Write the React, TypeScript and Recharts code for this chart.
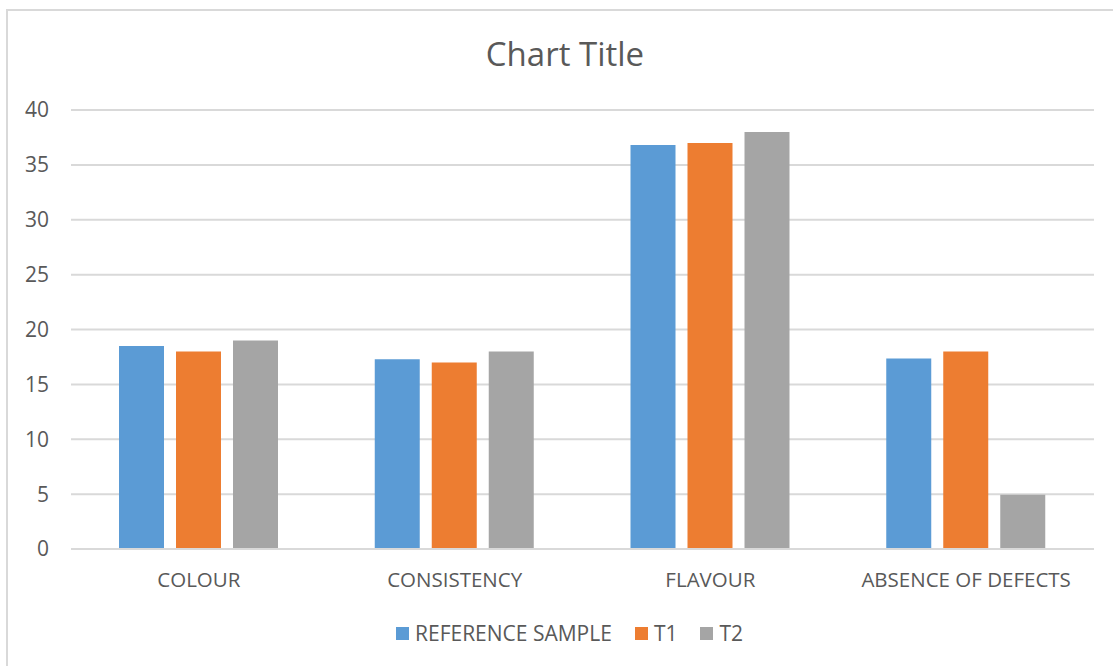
import React from "react";
import { BarChart, Bar, XAxis, YAxis, CartesianGrid } from "recharts";

const categories = ["COLOUR", "CONSISTENCY", "FLAVOUR", "ABSENCE OF DEFECTS"];
const referenceSample = [18.5, 17.3, 36.8, 17.35];
const t1 = [18.0, 17.0, 37.0, 18.0];
const t2 = [19.0, 18.0, 38.0, 4.95];
const yTicks = [0, 5, 10, 15, 20, 25, 30, 35, 40];

const seriesNames = ["REFERENCE SAMPLE", "T1", "T2"];
const seriesColors = ["#5B9BD5", "#ED7D31", "#A5A5A5"];

const data = categories.map((c, i) => ({
  name: c,
  refSample: referenceSample[i],
  t1: t1[i],
  t2: t2[i],
}));

const FONT = "'Open Sans', 'DejaVu Sans', sans-serif";
const TEXT = "#595959";

export default function App() {
  return (
    <div
      style={{
        position: "absolute",
        left: 0,
        top: 0,
        width: 1113,
        height: 666,
        overflow: "hidden",
        background: "#fff",
        fontFamily: FONT,
      }}
    >
      <div
        style={{
          position: "absolute",
          left: 6,
          top: 9,
          width: 1200,
          height: 800,
          border: "2px solid #D9D9D9",
          boxSizing: "border-box",
        }}
      />
      <div
        style={{
          position: "absolute",
          left: 0,
          top: 33,
          width: 1130,
          textAlign: "center",
          fontSize: 33,
          color: TEXT,
          lineHeight: "42px",
        }}
      >
        Chart Title
      </div>
      <div style={{ position: "absolute", left: 0, top: 0 }}>
        <BarChart
          width={1113}
          height={666}
          data={data}
          margin={{ top: 110, right: 19, left: 11, bottom: 77 }}
          barSize={45}
          barGap={12}
        >
          <CartesianGrid vertical={false} stroke="#D9D9D9" strokeWidth={2} />
          <XAxis
            dataKey="name"
            axisLine={{ stroke: "#D9D9D9", strokeWidth: 2 }}
            tickLine={false}
            tickSize={0}
            tickMargin={23}
            height={40}
            tick={{ fill: TEXT, fontSize: 20.5, fontFamily: FONT }}
            interval={0}
          />
          <YAxis
            domain={[0, 40]}
            ticks={yTicks}
            width={60}
            axisLine={false}
            tickLine={false}
            tickSize={0}
            tickMargin={22}
            tick={{ fill: TEXT, fontSize: 21, fontFamily: FONT }}
          />
          <Bar dataKey="refSample" fill={seriesColors[0]} isAnimationActive={false} />
          <Bar dataKey="t1" fill={seriesColors[1]} isAnimationActive={false} />
          <Bar dataKey="t2" fill={seriesColors[2]} isAnimationActive={false} />
        </BarChart>
      </div>
      <div
        style={{
          position: "absolute",
          left: 396,
          top: 620,
          display: "flex",
          alignItems: "center",
          fontSize: 21,
          color: TEXT,
          lineHeight: "26px",
          whiteSpace: "nowrap",
        }}
      >
        {seriesNames.map((n, i) => (
          <div
            key={n}
            style={{ display: "flex", alignItems: "center", marginRight: i < 2 ? 23 : 0 }}
          >
            <span
              style={{
                display: "inline-block",
                width: 13,
                height: 13,
                background: seriesColors[i],
                marginRight: 6,
              }}
            />
            <span>{n}</span>
          </div>
        ))}
      </div>
    </div>
  );
}
